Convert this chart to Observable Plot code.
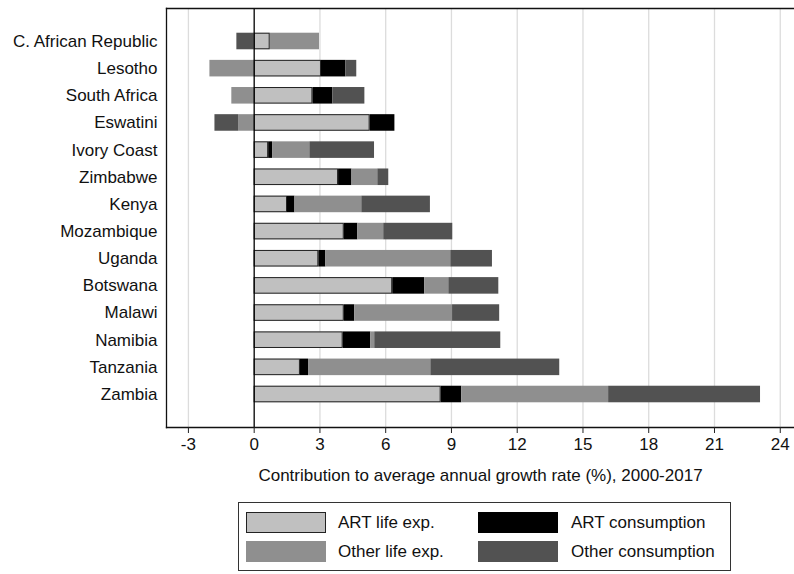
<!DOCTYPE html>
<html>
<head>
<meta charset="utf-8">
<script src="https://cdn.jsdelivr.net/npm/d3@7"></script>
<script src="https://cdn.jsdelivr.net/npm/@observablehq/plot@0.6"></script>
<style>
  html, body { margin: 0; padding: 0; background: #fff; }
  #wrap { position: relative; width: 794px; height: 574px; font-family: "Liberation Sans", Arial, sans-serif; color: #111; }
  #chart svg { display: block; }
  #legend { position: absolute; left: 238px; top: 502px; width: 493px; height: 69px; border: 1px solid #333; box-sizing: border-box; }
  .sw { position: absolute; width: 80px; height: 21px; box-sizing: border-box; }
  .lt { position: absolute; font-size: 17px; line-height: 21px; white-space: nowrap; }
</style>
</head>
<body>
<div id="wrap">
  <div id="chart"></div>
  <div id="legend"></div>
</div>
<script>
const countries = ["C. African Republic","Lesotho","South Africa","Eswatini","Ivory Coast","Zimbabwe","Kenya","Mozambique","Uganda","Botswana","Malawi","Namibia","Tanzania","Zambia"];
const series = ["ART life exp.","ART consumption","Other life exp.","Other consumption"];
const seriesColors = ["#c0c0c0","#000000","#8f8f8f","#525252"];
const artLifeExp     = [0.73, 3.07, 2.68, 5.29, 0.66, 3.85, 1.52, 4.11, 2.95, 6.32, 4.11, 4.06, 2.11, 8.53];
const artConsumption = [0.00, 1.11, 0.91, 1.13, 0.18, 0.61, 0.34, 0.62, 0.32, 1.46, 0.48, 1.26, 0.37, 0.94];
const otherLifeExp   = [2.25, -2.02, -1.02, -0.70, 1.70, 1.18, 3.05, 1.18, 5.70, 1.10, 4.46, 0.18, 5.58, 6.70];
const otherConsumption = [-0.79, 0.50, 1.46, -1.09, 2.95, 0.50, 3.13, 3.15, 1.90, 2.28, 2.15, 5.75, 5.88, 6.93];
const xTicks = [-3, 0, 3, 6, 9, 12, 15, 18, 21, 24];
const xLabel = "Contribution to average annual growth rate (%), 2000-2017";

const seriesValues = [artLifeExp, artConsumption, otherLifeExp, otherConsumption];
const long = [];
countries.forEach((c, i) => {
  series.forEach((s, j) => long.push({country: c, series: s, value: seriesValues[j][i]}));
});

const chart = Plot.plot({
  width: 794,
  height: 490,
  marginLeft: 166,
  marginRight: 0,
  marginTop: 8,
  marginBottom: 63,
  style: {fontFamily: '"Liberation Sans", Arial, sans-serif', fontSize: "17px", color: "#111", background: "#fff"},
  x: {domain: [-4, 24.65]},
  y: {domain: countries, paddingInner: 0.39, paddingOuter: 0.91, round: false},
  color: {domain: series, range: seriesColors},
  marks: [
    Plot.ruleX(xTicks.filter(d => d !== 0), {stroke: "#dcdcdc", strokeWidth: 1.3}),
    Plot.barX(long, Plot.stackX({x: "value", y: "country", fill: "series", order: null})),
    Plot.barX(long, Plot.stackX({filter: d => d.series === "ART life exp.", x: "value", y: "country", fill: "none", stroke: "#222", strokeWidth: 1, inset: 0.5})),
    Plot.ruleX([0], {stroke: "#000", strokeWidth: 1.3}),
    Plot.frame({anchor: "top", stroke: "#111", strokeWidth: 1.3}),
    Plot.frame({anchor: "left", stroke: "#111", strokeWidth: 1.3}),
    Plot.frame({anchor: "bottom", stroke: "#111", strokeWidth: 1.3}),
    Plot.axisX({ticks: xTicks, tickFormat: d => String(d), tickSize: 6, tickPadding: 4, fontSize: 17, stroke: "#222",
      label: xLabel, labelAnchor: "center", labelOffset: 53, labelArrow: "none"}),
    Plot.axisY({tickSize: 0, tickPadding: 9, fontSize: 17, label: null})
  ]
});
document.getElementById("chart").appendChild(chart);

// legend
const legend = document.getElementById("legend");
const pos = [
  {sx: 7, sy: 9, tx: 99, ty: 9},
  {sx: 239, sy: 9, tx: 332, ty: 9},
  {sx: 7, sy: 38, tx: 99, ty: 38},
  {sx: 239, sy: 38, tx: 332, ty: 38}
];
series.forEach((s, i) => {
  const sw = document.createElement("div");
  sw.className = "sw";
  sw.style.left = pos[i].sx + "px";
  sw.style.top = pos[i].sy + "px";
  sw.style.background = seriesColors[i];
  if (i === 0) sw.style.border = "1px solid #222";
  legend.appendChild(sw);
  const t = document.createElement("div");
  t.className = "lt";
  t.style.left = pos[i].tx + "px";
  t.style.top = pos[i].ty + "px";
  t.textContent = s;
  legend.appendChild(t);
});
</script>
</body>
</html>
